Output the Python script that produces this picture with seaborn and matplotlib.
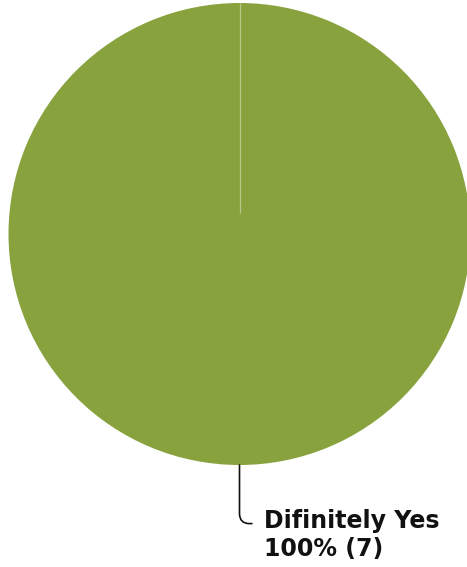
import numpy as np
import matplotlib
matplotlib.use("Agg")
import matplotlib.pyplot as plt
import seaborn as sns

sns.set_theme(style="white")
plt.rcParams['font.family'] = ['DejaVu Sans']

# Survey answers
categories = ["Difinitely Yes"]
counts = [7]
colors = ["#88a23e"]

W, H = 467, 567
fig = plt.figure(figsize=(W / 100, H / 100), dpi=100)
ax = fig.add_axes([0, 0, 1, 1])

cx, cy, r = 239.5, H - 234, 231
wedges, _ = ax.pie(counts, colors=colors, startangle=90, counterclock=False,
                   center=(cx, cy), radius=r, frame=True,
                   wedgeprops=dict(edgecolor="none", linewidth=0))
ax.set_xlim(0, W)
ax.set_ylim(0, H)
ax.set_aspect("equal")
ax.axis("off")

# faint slice border along the start angle
for w in wedges:
    a = np.deg2rad(w.theta2)
    ax.plot([cx + 0.09 * r * np.cos(a), cx + r * np.cos(a)],
            [cy + 0.09 * r * np.sin(a), cy + r * np.sin(a)],
            color="#c3d19a", lw=0.9, alpha=0.8, solid_capstyle="butt")

total = sum(counts)
for w, cat, n in zip(wedges, categories, counts):
    mid = np.deg2rad((w.theta1 + w.theta2) / 2)
    px, py = cx + r * np.cos(mid), cy + r * np.sin(mid)
    label = f"{cat}\n{n / total:.0%} ({n})"
    ax.annotate(label, xy=(px, py), xytext=(px + 24, py - 70),
                ha="left", va="center", fontsize=17, fontweight="bold",
                color="#111111", linespacing=1.2,
                arrowprops=dict(arrowstyle="-", color="#111111", lw=1.2,
                                shrinkA=6, shrinkB=0, relpos=(0, 0.72),
                                connectionstyle="angle,angleA=0,angleB=90,rad=10"))

fig.savefig("out.png", dpi=100)
